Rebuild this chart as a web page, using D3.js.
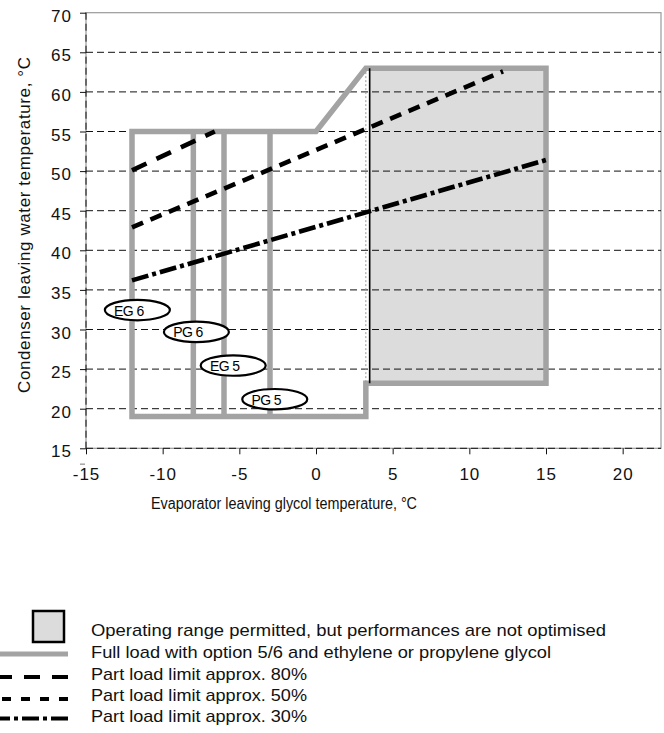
<!DOCTYPE html>
<html>
<head>
<meta charset="utf-8">
<script src="https://cdn.jsdelivr.net/npm/d3@7"></script>
<style>
  html, body { margin: 0; padding: 0; background: #fff; }
  svg { display: block; font-family: "Liberation Sans", Arial, sans-serif; }
</style>
</head>
<body>
<svg id="chart" width="664" height="733"></svg>
<script>
// ---------- data ----------
const xTicks = [-15, -10, -5, 0, 5, 10, 15, 20];
const yTicks = [15, 20, 25, 30, 35, 40, 45, 50, 55, 60, 65, 70];
const gridY = [15, 20, 25, 30, 35, 40, 45, 50, 55, 60, 65];

// Full load envelope (grey thick line)
const fullLoadX = [-12, 0, 3.25, 15, 15, 3.25, 3.25, -12, -12];
const fullLoadY = [55, 55, 63, 63, 23.2, 23.2, 19, 19, 55];
// Glycol limit verticals (EG/PG 5/6)
const glycolLimitX = [-8, -6, -3];
const glycolLimitY = [19, 55];
// Operating range permitted, not optimised (shaded)
const shadedX = [3.5, 15];
const shadedY = [23.2, 63];
// Part load limits
const part80X = [-12, -6.6];
const part80Y = [50.1, 55];
const part50X = [-12, 12.2];
const part50Y = [42.9, 62.6];
const part30X = [-12, 15];
const part30Y = [36.2, 51.4];
// Ellipse labels
const labelNames = ["EG 6", "PG 6", "EG 5", "PG 5"];
const labelX = [-11.65, -7.8, -5.4, -2.69];
const labelY = [32.45, 29.7, 25.45, 21.2];

const legendLabels = [
  "Operating range permitted, but performances are not optimised",
  "Full load with option 5/6 and ethylene or propylene glycol",
  "Part load limit approx. 80%",
  "Part load limit approx. 50%",
  "Part load limit approx. 30%"
];
const xTitle = "Evaporator leaving glycol temperature, °C";
const yTitle = "Condenser leaving water temperature, °C";

// ---------- drawing ----------
const svg = d3.select("#chart");
const x = d3.scaleLinear().domain([-15, 22.5]).range([86, 661]);
const y = d3.scaleLinear().domain([15, 70]).range([448.3, 12.7]);
const GREY = "#a3a3a3";
const FONT = "Liberation Sans, Arial, sans-serif";

// shaded area
svg.append("rect")
  .attr("x", x(shadedX[0])).attr("y", y(shadedY[1]))
  .attr("width", x(shadedX[1]) - x(shadedX[0]))
  .attr("height", y(shadedY[0]) - y(shadedY[1]))
  .attr("fill", "#dcdcdc");

// plot border (grey)
svg.append("rect")
  .attr("x", x(-15)).attr("y", y(70))
  .attr("width", x(22.5) - x(-15)).attr("height", y(15) - y(70))
  .attr("fill", "none").attr("stroke", "#9a9a9a").attr("stroke-width", 1.2);

// horizontal dashed grid lines
svg.append("g").selectAll("line").data(gridY).join("line")
  .attr("x1", x(-15)).attr("x2", x(22.5))
  .attr("y1", d => y(d)).attr("y2", d => y(d))
  .attr("stroke", "#111").attr("stroke-width", 1)
  .attr("stroke-dasharray", "7,4");

// left axis dashed line
svg.append("line")
  .attr("x1", x(-15)).attr("x2", x(-15))
  .attr("y1", y(70)).attr("y2", y(15))
  .attr("stroke", "#111").attr("stroke-width", 1)
  .attr("stroke-dasharray", "7,4");

// Y axis ticks & labels
const yAxis = d3.axisLeft(y).tickValues(yTicks).tickSize(6).tickSizeOuter(0);
const gy = svg.append("g").attr("transform", `translate(${x(-15)},0)`).call(yAxis);
gy.select(".domain").remove();
gy.selectAll(".tick line").attr("stroke", "#111");
gy.selectAll(".tick text")
  .attr("x", -14).attr("dy", "0.5em")
  .attr("font-size", 17).attr("letter-spacing", "1px")
  .attr("font-family", FONT)
  .attr("fill", "#111");
// small stray tick below axis
svg.append("line")
  .attr("x1", x(-15) - 6).attr("x2", x(-15) - 1)
  .attr("y1", y(13)).attr("y2", y(13))
  .attr("stroke", "#777").attr("stroke-width", 1);

// X axis ticks & labels
const xAxis = d3.axisBottom(x).tickValues(xTicks).tickSize(6).tickSizeOuter(0).tickFormat(d3.format("d"));
const gx = svg.append("g").attr("transform", `translate(0,${y(15)})`).call(xAxis);
gx.select(".domain").remove();
gx.selectAll(".tick line").attr("stroke", "#111");
gx.selectAll(".tick text")
  .attr("y", 27).attr("dy", "0.25em")
  .attr("font-size", 17).attr("letter-spacing", "1px")
  .attr("font-family", FONT)
  .attr("fill", "#111");
gx.selectAll(".tick text").text(d => d < 0 ? "-" + Math.abs(d) : d);

// full load envelope
const line = d3.line().x(d => x(d[0])).y(d => y(d[1]));
svg.append("path")
  .datum(fullLoadX.map((v, i) => [v, fullLoadY[i]]))
  .attr("d", line)
  .attr("fill", "none").attr("stroke", GREY).attr("stroke-width", 5.5)
  .attr("stroke-linejoin", "miter").attr("stroke-linecap", "square");

svg.append("g").selectAll("line").data(glycolLimitX).join("line")
  .attr("x1", d => x(d)).attr("x2", d => x(d))
  .attr("y1", y(glycolLimitY[0])).attr("y2", y(glycolLimitY[1]))
  .attr("stroke", GREY).attr("stroke-width", 5.5);

// dotted grey line & black line at left of shaded area
svg.append("line")
  .attr("x1", x(3.25)).attr("x2", x(3.25))
  .attr("y1", y(shadedY[1])).attr("y2", y(shadedY[0]))
  .attr("stroke", "#999").attr("stroke-width", 1).attr("stroke-dasharray", "2,2");
svg.append("line")
  .attr("x1", x(shadedX[0])).attr("x2", x(shadedX[0]))
  .attr("y1", y(shadedY[1])).attr("y2", y(shadedY[0]))
  .attr("stroke", "#000").attr("stroke-width", 1.6);

// part load lines
const partLines = [
  { xs: part80X, ys: part80Y, dash: "16,11" },
  { xs: part50X, ys: part50Y, dash: "12,8" },
  { xs: part30X, ys: part30Y, dash: "17,4,4,4" }
];
partLines.forEach(p => {
  svg.append("path")
    .datum(p.xs.map((v, i) => [v, p.ys[i]]))
    .attr("d", line)
    .attr("fill", "none").attr("stroke", "#000").attr("stroke-width", 4.6)
    .attr("stroke-dasharray", p.dash);
});

// ellipse labels
const lab = svg.append("g").selectAll("g").data(labelNames).join("g")
  .attr("transform", (d, i) => `translate(${x(labelX[i])},${y(labelY[i])})`);
lab.append("ellipse")
  .attr("rx", 32.5).attr("ry", 10.2)
  .attr("fill", "#fff").attr("stroke", "#000").attr("stroke-width", 2.2);
lab.append("text")
  .attr("x", -8.5).attr("y", 5.5)
  .attr("text-anchor", "middle")
  .attr("font-size", 14).attr("letter-spacing", "-0.6px")
  .attr("fill", "#000")
  .text(d => d);

// axis titles
svg.append("text")
  .attr("x", 284).attr("y", 509)
  .attr("text-anchor", "middle")
  .attr("font-size", 16)
  .attr("textLength", 266).attr("lengthAdjust", "spacingAndGlyphs")
  .attr("fill", "#111")
  .text(xTitle);

svg.append("text")
  .attr("transform", "translate(30,225) rotate(-90)")
  .attr("text-anchor", "middle")
  .attr("font-size", 17)
  .attr("textLength", 336).attr("lengthAdjust", "spacing")
  .attr("fill", "#111")
  .text(yTitle);

// legend
const legBase = [636, 658, 680, 701, 722];
const legLen = [515, 460, 216, 216, 216];
svg.append("g").selectAll("text").data(legendLabels).join("text")
  .attr("x", 91).attr("y", (d, i) => legBase[i])
  .attr("font-size", 17)
  .attr("textLength", (d, i) => legLen[i]).attr("lengthAdjust", "spacingAndGlyphs")
  .attr("fill", "#111")
  .text(d => d);

svg.append("rect")
  .attr("x", 33).attr("y", 611).attr("width", 31).attr("height", 31)
  .attr("fill", "#dcdcdc").attr("stroke", "#000").attr("stroke-width", 2.5);
svg.append("line")
  .attr("x1", 0).attr("x2", 68).attr("y1", 654).attr("y2", 654)
  .attr("stroke", GREY).attr("stroke-width", 5);
const legDash = [["16,12", 677], ["9,10", 699], ["17,4,4,4", 718.5]];
legDash.forEach(([dash, yy]) => {
  svg.append("line")
    .attr("x1", 68).attr("x2", 0).attr("y1", yy).attr("y2", yy)
    .attr("stroke", "#000").attr("stroke-width", 4.2)
    .attr("stroke-dasharray", dash);
});
</script>
</body>
</html>
